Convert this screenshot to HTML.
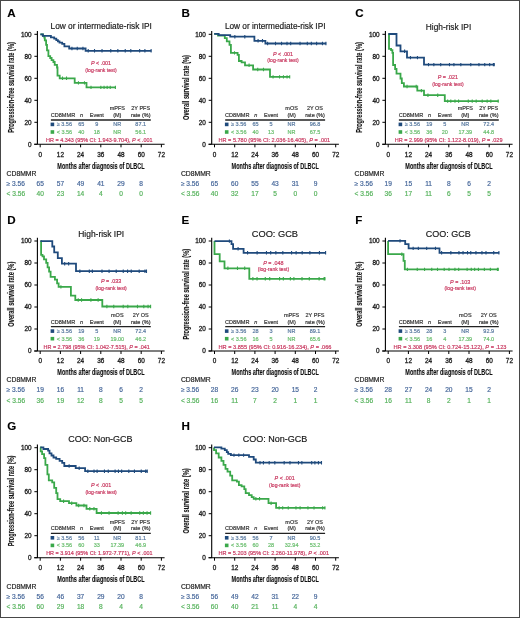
<!DOCTYPE html>
<html><head><meta charset="utf-8"><style>
html,body{margin:0;padding:0;background:#fff;}
#wrap{position:relative;width:520px;height:618px;overflow:hidden;background:#fff;}
#wrap svg{position:absolute;left:0;top:0;display:block;font-family:"Liberation Sans", sans-serif;}
#fig{filter:blur(0.4px);}
#frame{position:absolute;left:0;top:0;width:518px;height:616px;border:1px solid #484848;}
</style></head><body>
<div id="wrap">
<svg id="fig" width="520" height="618" viewBox="0 0 520 618">
<rect x="0" y="0" width="520" height="618" fill="#fff"/>
<text x="7.20" y="17.00" font-size="11.6" text-anchor="start" fill="#000" stroke="#000" stroke-width="0.12" font-weight="bold">A</text>
<text x="101.20" y="28.70" font-size="8.8" text-anchor="middle" fill="#1a1a1a" stroke="#1a1a1a" stroke-width="0.18" textLength="101.40" lengthAdjust="spacingAndGlyphs">Low or intermediate-risk IPI</text>
<path d="M37.40,31.00V144.30M34.20,144.30H164.60" stroke="#000" stroke-width="1.1" fill="none"/>
<text x="31.60" y="146.60" font-size="6.4" text-anchor="end" fill="#222" stroke="#222" stroke-width="0.3">0</text>
<text x="31.60" y="124.60" font-size="6.4" text-anchor="end" fill="#222" stroke="#222" stroke-width="0.3">20</text>
<text x="31.60" y="102.60" font-size="6.4" text-anchor="end" fill="#222" stroke="#222" stroke-width="0.3">40</text>
<text x="31.60" y="80.60" font-size="6.4" text-anchor="end" fill="#222" stroke="#222" stroke-width="0.3">60</text>
<text x="31.60" y="58.60" font-size="6.4" text-anchor="end" fill="#222" stroke="#222" stroke-width="0.3">80</text>
<text x="31.60" y="36.60" font-size="6.4" text-anchor="end" fill="#222" stroke="#222" stroke-width="0.3">100</text>
<text x="40.20" y="156.50" font-size="6.4" text-anchor="middle" fill="#222" stroke="#222" stroke-width="0.3">0</text>
<text x="60.40" y="156.50" font-size="6.4" text-anchor="middle" fill="#222" stroke="#222" stroke-width="0.3">12</text>
<text x="80.60" y="156.50" font-size="6.4" text-anchor="middle" fill="#222" stroke="#222" stroke-width="0.3">24</text>
<text x="100.80" y="156.50" font-size="6.4" text-anchor="middle" fill="#222" stroke="#222" stroke-width="0.3">36</text>
<text x="121.00" y="156.50" font-size="6.4" text-anchor="middle" fill="#222" stroke="#222" stroke-width="0.3">48</text>
<text x="141.20" y="156.50" font-size="6.4" text-anchor="middle" fill="#222" stroke="#222" stroke-width="0.3">60</text>
<text x="161.40" y="156.50" font-size="6.4" text-anchor="middle" fill="#222" stroke="#222" stroke-width="0.3">72</text>
<path d="M34.40,144.30H37.40M34.40,122.30H37.40M34.40,100.30H37.40M34.40,78.30H37.40M34.40,56.30H37.40M34.40,34.30H37.40M40.20,144.30V147.30M60.40,144.30V147.30M80.60,144.30V147.30M100.80,144.30V147.30M121.00,144.30V147.30M141.20,144.30V147.30M161.40,144.30V147.30" stroke="#000" stroke-width="1" fill="none"/>
<text x="57.30" y="168.70" font-size="8.4" text-anchor="start" fill="#111" stroke="#111" stroke-width="0.12" font-weight="bold" textLength="87.30" lengthAdjust="spacingAndGlyphs">Months after diagnosis of DLBCL</text>
<g transform="translate(14.30,87.50) rotate(-90)"><text x="0.00" y="0.00" font-size="8.6" text-anchor="middle" fill="#111" stroke="#111" stroke-width="0.12" font-weight="bold" textLength="90.70" lengthAdjust="spacingAndGlyphs">Progression-free survival rate (%)</text></g>
<path d="M40.40,34.30H43.00V35.80H44.30V37.60H44.80V40.30H46.10V44.90H47.00V50.30H48.40V56.20H50.20V58.00H51.60V60.20H53.40V62.00H54.70V64.80H57.00V67.50H57.50V75.60H59.70V78.30H74.70V82.90H86.50V87.40H115.70" stroke="#3aa84a" stroke-width="1.8" fill="none"/>
<path d="M62.51,76.60V80.00M66.52,76.60V80.00M78.45,81.20V84.60M84.48,81.20V84.60M91.00,85.70V89.10M100.84,85.70V89.10M104.05,85.70V89.10M107.16,85.70V89.10M110.22,85.70V89.10M115.40,85.70V89.10" stroke="#3aa84a" stroke-width="1.1" fill="none"/>
<path d="M40.40,34.30H42.80V35.90H50.90V37.30H54.20V38.60H56.30V40.20H57.90V41.30H59.50V42.70H62.20V43.80H64.40V46.40H69.20V48.50H85.60V50.80H151.40" stroke="#1f4a7c" stroke-width="1.8" fill="none"/>
<path d="M71.93,46.80V50.20M77.25,46.80V50.20M82.93,46.80V50.20M88.20,49.10V52.50M94.52,49.10V52.50M102.02,49.10V52.50M110.76,49.10V52.50M117.86,49.10V52.50M125.24,49.10V52.50M130.79,49.10V52.50M139.64,49.10V52.50M144.90,49.10V52.50M151.10,49.10V52.50" stroke="#1f4a7c" stroke-width="1.1" fill="none"/>
<text x="101.00" y="65.00" font-size="5.4" text-anchor="middle" fill="#c8365e" stroke="#c8365e" stroke-width="0.18"><tspan font-style="italic">P</tspan> &lt; .001</text>
<text x="101.00" y="71.60" font-size="5.4" text-anchor="middle" fill="#c8365e" stroke="#c8365e" stroke-width="0.18" textLength="31.40" lengthAdjust="spacingAndGlyphs">(log-rank test)</text>
<text x="117.30" y="110.20" font-size="5.5" text-anchor="middle" fill="#333" stroke="#333" stroke-width="0.18">mPFS</text>
<text x="140.70" y="110.20" font-size="5.5" text-anchor="middle" fill="#333" stroke="#333" stroke-width="0.18">2Y PFS</text>
<text x="50.70" y="117.00" font-size="5.5" text-anchor="start" fill="#333" stroke="#333" stroke-width="0.18" textLength="24.50" lengthAdjust="spacingAndGlyphs">CD8MMR</text>
<text x="81.50" y="117.00" font-size="5.5" text-anchor="middle" fill="#333" stroke="#333" stroke-width="0.18" font-style="italic">n</text>
<text x="96.80" y="117.00" font-size="5.5" text-anchor="middle" fill="#333" stroke="#333" stroke-width="0.18">Event</text>
<text x="117.30" y="117.00" font-size="5.5" text-anchor="middle" fill="#333" stroke="#333" stroke-width="0.18">(M)</text>
<text x="140.70" y="117.00" font-size="5.5" text-anchor="middle" fill="#333" stroke="#333" stroke-width="0.18">rate (%)</text>
<path d="M50.90,120.00H150.80" stroke="#222" stroke-width="1.3"/>
<rect x="50.60" y="122.60" width="3.6" height="3.6" fill="#1f4a7c"/>
<text x="56.70" y="126.30" font-size="5.5" text-anchor="start" fill="#57789f" stroke="#57789f" stroke-width="0.18">&#8805; 3.56</text>
<text x="81.20" y="126.30" font-size="5.5" text-anchor="middle" fill="#57789f" stroke="#57789f" stroke-width="0.18">65</text>
<text x="96.80" y="126.30" font-size="5.5" text-anchor="middle" fill="#57789f" stroke="#57789f" stroke-width="0.18">9</text>
<text x="117.30" y="126.30" font-size="5.5" text-anchor="middle" fill="#57789f" stroke="#57789f" stroke-width="0.18">NR</text>
<text x="140.70" y="126.30" font-size="5.5" text-anchor="middle" fill="#57789f" stroke="#57789f" stroke-width="0.18">87.1</text>
<rect x="50.60" y="130.20" width="3.6" height="3.6" fill="#3aa84a"/>
<text x="56.70" y="133.90" font-size="5.5" text-anchor="start" fill="#68bd6c" stroke="#68bd6c" stroke-width="0.18">&lt; 3.56</text>
<text x="81.20" y="133.90" font-size="5.5" text-anchor="middle" fill="#68bd6c" stroke="#68bd6c" stroke-width="0.18">40</text>
<text x="96.80" y="133.90" font-size="5.5" text-anchor="middle" fill="#68bd6c" stroke="#68bd6c" stroke-width="0.18">18</text>
<text x="117.30" y="133.90" font-size="5.5" text-anchor="middle" fill="#68bd6c" stroke="#68bd6c" stroke-width="0.18">NR</text>
<text x="140.70" y="133.90" font-size="5.5" text-anchor="middle" fill="#68bd6c" stroke="#68bd6c" stroke-width="0.18">56.1</text>
<text x="99.30" y="141.90" font-size="5.5" text-anchor="middle" fill="#c8365e" stroke="#c8365e" stroke-width="0.18" textLength="106.40" lengthAdjust="spacingAndGlyphs">HR = 4.343 (95% CI: 1.943-9.704), <tspan font-style="italic">P</tspan> &lt; .001</text>
<text x="6.60" y="175.50" font-size="6.8" text-anchor="start" fill="#222" stroke="#222" stroke-width="0.18">CD8MMR</text>
<text x="6.60" y="185.60" font-size="6.6" text-anchor="start" fill="#46679a" stroke="#46679a" stroke-width="0.18">&#8805; 3.56</text>
<text x="40.20" y="185.60" font-size="6.6" text-anchor="middle" fill="#46679a" stroke="#46679a" stroke-width="0.18">65</text>
<text x="60.40" y="185.60" font-size="6.6" text-anchor="middle" fill="#46679a" stroke="#46679a" stroke-width="0.18">57</text>
<text x="80.60" y="185.60" font-size="6.6" text-anchor="middle" fill="#46679a" stroke="#46679a" stroke-width="0.18">49</text>
<text x="100.80" y="185.60" font-size="6.6" text-anchor="middle" fill="#46679a" stroke="#46679a" stroke-width="0.18">41</text>
<text x="121.00" y="185.60" font-size="6.6" text-anchor="middle" fill="#46679a" stroke="#46679a" stroke-width="0.18">29</text>
<text x="141.20" y="185.60" font-size="6.6" text-anchor="middle" fill="#46679a" stroke="#46679a" stroke-width="0.18">8</text>
<text x="6.60" y="195.80" font-size="6.6" text-anchor="start" fill="#55b25b" stroke="#55b25b" stroke-width="0.18">&lt; 3.56</text>
<text x="40.20" y="195.80" font-size="6.6" text-anchor="middle" fill="#55b25b" stroke="#55b25b" stroke-width="0.18">40</text>
<text x="60.40" y="195.80" font-size="6.6" text-anchor="middle" fill="#55b25b" stroke="#55b25b" stroke-width="0.18">23</text>
<text x="80.60" y="195.80" font-size="6.6" text-anchor="middle" fill="#55b25b" stroke="#55b25b" stroke-width="0.18">14</text>
<text x="100.80" y="195.80" font-size="6.6" text-anchor="middle" fill="#55b25b" stroke="#55b25b" stroke-width="0.18">4</text>
<text x="121.00" y="195.80" font-size="6.6" text-anchor="middle" fill="#55b25b" stroke="#55b25b" stroke-width="0.18">0</text>
<text x="141.20" y="195.80" font-size="6.6" text-anchor="middle" fill="#55b25b" stroke="#55b25b" stroke-width="0.18">0</text>
<text x="181.50" y="17.00" font-size="11.6" text-anchor="start" fill="#000" stroke="#000" stroke-width="0.12" font-weight="bold">B</text>
<text x="275.20" y="28.70" font-size="8.8" text-anchor="middle" fill="#1a1a1a" stroke="#1a1a1a" stroke-width="0.18" textLength="100.60" lengthAdjust="spacingAndGlyphs">Low or intermediate-risk IPI</text>
<path d="M211.70,31.00V144.30M208.50,144.30H338.90" stroke="#000" stroke-width="1.1" fill="none"/>
<text x="205.90" y="146.60" font-size="6.4" text-anchor="end" fill="#222" stroke="#222" stroke-width="0.3">0</text>
<text x="205.90" y="124.60" font-size="6.4" text-anchor="end" fill="#222" stroke="#222" stroke-width="0.3">20</text>
<text x="205.90" y="102.60" font-size="6.4" text-anchor="end" fill="#222" stroke="#222" stroke-width="0.3">40</text>
<text x="205.90" y="80.60" font-size="6.4" text-anchor="end" fill="#222" stroke="#222" stroke-width="0.3">60</text>
<text x="205.90" y="58.60" font-size="6.4" text-anchor="end" fill="#222" stroke="#222" stroke-width="0.3">80</text>
<text x="205.90" y="36.60" font-size="6.4" text-anchor="end" fill="#222" stroke="#222" stroke-width="0.3">100</text>
<text x="214.50" y="156.50" font-size="6.4" text-anchor="middle" fill="#222" stroke="#222" stroke-width="0.3">0</text>
<text x="234.70" y="156.50" font-size="6.4" text-anchor="middle" fill="#222" stroke="#222" stroke-width="0.3">12</text>
<text x="254.90" y="156.50" font-size="6.4" text-anchor="middle" fill="#222" stroke="#222" stroke-width="0.3">24</text>
<text x="275.10" y="156.50" font-size="6.4" text-anchor="middle" fill="#222" stroke="#222" stroke-width="0.3">36</text>
<text x="295.30" y="156.50" font-size="6.4" text-anchor="middle" fill="#222" stroke="#222" stroke-width="0.3">48</text>
<text x="315.50" y="156.50" font-size="6.4" text-anchor="middle" fill="#222" stroke="#222" stroke-width="0.3">60</text>
<text x="335.70" y="156.50" font-size="6.4" text-anchor="middle" fill="#222" stroke="#222" stroke-width="0.3">72</text>
<path d="M208.70,144.30H211.70M208.70,122.30H211.70M208.70,100.30H211.70M208.70,78.30H211.70M208.70,56.30H211.70M208.70,34.30H211.70M214.50,144.30V147.30M234.70,144.30V147.30M254.90,144.30V147.30M275.10,144.30V147.30M295.30,144.30V147.30M315.50,144.30V147.30M335.70,144.30V147.30" stroke="#000" stroke-width="1" fill="none"/>
<text x="231.60" y="168.70" font-size="8.4" text-anchor="start" fill="#111" stroke="#111" stroke-width="0.12" font-weight="bold" textLength="87.30" lengthAdjust="spacingAndGlyphs">Months after diagnosis of DLBCL</text>
<g transform="translate(188.60,87.50) rotate(-90)"><text x="0.00" y="0.00" font-size="8.6" text-anchor="middle" fill="#111" stroke="#111" stroke-width="0.12" font-weight="bold" textLength="65.00" lengthAdjust="spacingAndGlyphs">Overall survival rate (%)</text></g>
<path d="M214.20,33.80H218.00V35.70H224.80V38.10H226.80V41.40H229.50V44.80H230.90V52.90H237.60V54.90H238.90V61.00H241.60V62.30H245.00V65.30H253.10V69.50H270.00V76.90H290.00" stroke="#3aa84a" stroke-width="1.8" fill="none"/>
<path d="M234.50,51.20V54.60M249.08,63.60V67.00M257.73,67.80V71.20M263.48,67.80V71.20M273.06,75.20V78.60M279.55,75.20V78.60M283.47,75.20V78.60M287.04,75.20V78.60M289.70,75.20V78.60" stroke="#3aa84a" stroke-width="1.1" fill="none"/>
<path d="M214.20,33.80H218.70V35.10H230.20V36.70H254.40V40.80H265.40V43.50H326.20" stroke="#1f4a7c" stroke-width="1.8" fill="none"/>
<path d="M234.85,35.00V38.40M244.80,35.00V38.40M258.08,39.10V42.50M262.49,39.10V42.50M267.59,41.80V45.20M275.52,41.80V45.20M281.57,41.80V45.20M287.01,41.80V45.20M290.68,41.80V45.20M300.02,41.80V45.20M307.31,41.80V45.20M311.35,41.80V45.20M316.60,41.80V45.20M322.43,41.80V45.20M325.90,41.80V45.20" stroke="#1f4a7c" stroke-width="1.1" fill="none"/>
<text x="283.00" y="55.60" font-size="5.4" text-anchor="middle" fill="#c8365e" stroke="#c8365e" stroke-width="0.18"><tspan font-style="italic">P</tspan> &lt; .001</text>
<text x="283.00" y="62.20" font-size="5.4" text-anchor="middle" fill="#c8365e" stroke="#c8365e" stroke-width="0.18" textLength="31.40" lengthAdjust="spacingAndGlyphs">(log-rank test)</text>
<text x="291.60" y="110.20" font-size="5.5" text-anchor="middle" fill="#333" stroke="#333" stroke-width="0.18">mOS</text>
<text x="315.00" y="110.20" font-size="5.5" text-anchor="middle" fill="#333" stroke="#333" stroke-width="0.18">2Y OS</text>
<text x="225.00" y="117.00" font-size="5.5" text-anchor="start" fill="#333" stroke="#333" stroke-width="0.18" textLength="24.50" lengthAdjust="spacingAndGlyphs">CD8MMR</text>
<text x="255.80" y="117.00" font-size="5.5" text-anchor="middle" fill="#333" stroke="#333" stroke-width="0.18" font-style="italic">n</text>
<text x="271.10" y="117.00" font-size="5.5" text-anchor="middle" fill="#333" stroke="#333" stroke-width="0.18">Event</text>
<text x="291.60" y="117.00" font-size="5.5" text-anchor="middle" fill="#333" stroke="#333" stroke-width="0.18">(M)</text>
<text x="315.00" y="117.00" font-size="5.5" text-anchor="middle" fill="#333" stroke="#333" stroke-width="0.18">rate (%)</text>
<path d="M225.20,120.00H325.10" stroke="#222" stroke-width="1.3"/>
<rect x="224.90" y="122.60" width="3.6" height="3.6" fill="#1f4a7c"/>
<text x="231.00" y="126.30" font-size="5.5" text-anchor="start" fill="#57789f" stroke="#57789f" stroke-width="0.18">&#8805; 3.56</text>
<text x="255.50" y="126.30" font-size="5.5" text-anchor="middle" fill="#57789f" stroke="#57789f" stroke-width="0.18">65</text>
<text x="271.10" y="126.30" font-size="5.5" text-anchor="middle" fill="#57789f" stroke="#57789f" stroke-width="0.18">5</text>
<text x="291.60" y="126.30" font-size="5.5" text-anchor="middle" fill="#57789f" stroke="#57789f" stroke-width="0.18">NR</text>
<text x="315.00" y="126.30" font-size="5.5" text-anchor="middle" fill="#57789f" stroke="#57789f" stroke-width="0.18">96.8</text>
<rect x="224.90" y="130.20" width="3.6" height="3.6" fill="#3aa84a"/>
<text x="231.00" y="133.90" font-size="5.5" text-anchor="start" fill="#68bd6c" stroke="#68bd6c" stroke-width="0.18">&lt; 3.56</text>
<text x="255.50" y="133.90" font-size="5.5" text-anchor="middle" fill="#68bd6c" stroke="#68bd6c" stroke-width="0.18">40</text>
<text x="271.10" y="133.90" font-size="5.5" text-anchor="middle" fill="#68bd6c" stroke="#68bd6c" stroke-width="0.18">13</text>
<text x="291.60" y="133.90" font-size="5.5" text-anchor="middle" fill="#68bd6c" stroke="#68bd6c" stroke-width="0.18">NR</text>
<text x="315.00" y="133.90" font-size="5.5" text-anchor="middle" fill="#68bd6c" stroke="#68bd6c" stroke-width="0.18">67.5</text>
<text x="274.35" y="141.90" font-size="5.5" text-anchor="middle" fill="#c8365e" stroke="#c8365e" stroke-width="0.18" textLength="111.70" lengthAdjust="spacingAndGlyphs">HR = 5.780 (95% CI: 2.036-16.405), <tspan font-style="italic">P</tspan> = .001</text>
<text x="180.90" y="175.50" font-size="6.8" text-anchor="start" fill="#222" stroke="#222" stroke-width="0.18">CD8MMR</text>
<text x="180.90" y="185.60" font-size="6.6" text-anchor="start" fill="#46679a" stroke="#46679a" stroke-width="0.18">&#8805; 3.56</text>
<text x="214.50" y="185.60" font-size="6.6" text-anchor="middle" fill="#46679a" stroke="#46679a" stroke-width="0.18">65</text>
<text x="234.70" y="185.60" font-size="6.6" text-anchor="middle" fill="#46679a" stroke="#46679a" stroke-width="0.18">60</text>
<text x="254.90" y="185.60" font-size="6.6" text-anchor="middle" fill="#46679a" stroke="#46679a" stroke-width="0.18">55</text>
<text x="275.10" y="185.60" font-size="6.6" text-anchor="middle" fill="#46679a" stroke="#46679a" stroke-width="0.18">43</text>
<text x="295.30" y="185.60" font-size="6.6" text-anchor="middle" fill="#46679a" stroke="#46679a" stroke-width="0.18">31</text>
<text x="315.50" y="185.60" font-size="6.6" text-anchor="middle" fill="#46679a" stroke="#46679a" stroke-width="0.18">9</text>
<text x="180.90" y="195.80" font-size="6.6" text-anchor="start" fill="#55b25b" stroke="#55b25b" stroke-width="0.18">&lt; 3.56</text>
<text x="214.50" y="195.80" font-size="6.6" text-anchor="middle" fill="#55b25b" stroke="#55b25b" stroke-width="0.18">40</text>
<text x="234.70" y="195.80" font-size="6.6" text-anchor="middle" fill="#55b25b" stroke="#55b25b" stroke-width="0.18">32</text>
<text x="254.90" y="195.80" font-size="6.6" text-anchor="middle" fill="#55b25b" stroke="#55b25b" stroke-width="0.18">17</text>
<text x="275.10" y="195.80" font-size="6.6" text-anchor="middle" fill="#55b25b" stroke="#55b25b" stroke-width="0.18">5</text>
<text x="295.30" y="195.80" font-size="6.6" text-anchor="middle" fill="#55b25b" stroke="#55b25b" stroke-width="0.18">0</text>
<text x="315.50" y="195.80" font-size="6.6" text-anchor="middle" fill="#55b25b" stroke="#55b25b" stroke-width="0.18">0</text>
<text x="355.20" y="17.00" font-size="11.6" text-anchor="start" fill="#000" stroke="#000" stroke-width="0.12" font-weight="bold">C</text>
<text x="448.50" y="30.20" font-size="8.8" text-anchor="middle" fill="#1a1a1a" stroke="#1a1a1a" stroke-width="0.18" textLength="45.40" lengthAdjust="spacingAndGlyphs">High-risk IPI</text>
<path d="M385.40,31.00V144.30M382.20,144.30H512.60" stroke="#000" stroke-width="1.1" fill="none"/>
<text x="379.60" y="146.60" font-size="6.4" text-anchor="end" fill="#222" stroke="#222" stroke-width="0.3">0</text>
<text x="379.60" y="124.60" font-size="6.4" text-anchor="end" fill="#222" stroke="#222" stroke-width="0.3">20</text>
<text x="379.60" y="102.60" font-size="6.4" text-anchor="end" fill="#222" stroke="#222" stroke-width="0.3">40</text>
<text x="379.60" y="80.60" font-size="6.4" text-anchor="end" fill="#222" stroke="#222" stroke-width="0.3">60</text>
<text x="379.60" y="58.60" font-size="6.4" text-anchor="end" fill="#222" stroke="#222" stroke-width="0.3">80</text>
<text x="379.60" y="36.60" font-size="6.4" text-anchor="end" fill="#222" stroke="#222" stroke-width="0.3">100</text>
<text x="388.20" y="156.50" font-size="6.4" text-anchor="middle" fill="#222" stroke="#222" stroke-width="0.3">0</text>
<text x="408.40" y="156.50" font-size="6.4" text-anchor="middle" fill="#222" stroke="#222" stroke-width="0.3">12</text>
<text x="428.60" y="156.50" font-size="6.4" text-anchor="middle" fill="#222" stroke="#222" stroke-width="0.3">24</text>
<text x="448.80" y="156.50" font-size="6.4" text-anchor="middle" fill="#222" stroke="#222" stroke-width="0.3">36</text>
<text x="469.00" y="156.50" font-size="6.4" text-anchor="middle" fill="#222" stroke="#222" stroke-width="0.3">48</text>
<text x="489.20" y="156.50" font-size="6.4" text-anchor="middle" fill="#222" stroke="#222" stroke-width="0.3">60</text>
<text x="509.40" y="156.50" font-size="6.4" text-anchor="middle" fill="#222" stroke="#222" stroke-width="0.3">72</text>
<path d="M382.40,144.30H385.40M382.40,122.30H385.40M382.40,100.30H385.40M382.40,78.30H385.40M382.40,56.30H385.40M382.40,34.30H385.40M388.20,144.30V147.30M408.40,144.30V147.30M428.60,144.30V147.30M448.80,144.30V147.30M469.00,144.30V147.30M489.20,144.30V147.30M509.40,144.30V147.30" stroke="#000" stroke-width="1" fill="none"/>
<text x="405.30" y="168.70" font-size="8.4" text-anchor="start" fill="#111" stroke="#111" stroke-width="0.12" font-weight="bold" textLength="87.30" lengthAdjust="spacingAndGlyphs">Months after diagnosis of DLBCL</text>
<g transform="translate(362.30,87.50) rotate(-90)"><text x="0.00" y="0.00" font-size="8.6" text-anchor="middle" fill="#111" stroke="#111" stroke-width="0.12" font-weight="bold" textLength="90.70" lengthAdjust="spacingAndGlyphs">Progression-free survival rate (%)</text></g>
<path d="M388.40,34.00H389.00V48.80H391.10V50.20H392.40V52.90H393.10V65.00H395.10V69.00H396.50V73.70H400.50V78.50H401.80V83.20H403.90V86.50H417.30V90.60H424.00V95.20H444.80V101.10H498.50" stroke="#3aa84a" stroke-width="1.8" fill="none"/>
<path d="M407.05,84.80V88.20M416.21,84.80V88.20M421.37,88.90V92.30M427.95,93.50V96.90M437.72,93.50V96.90M447.65,99.40V102.80M450.80,99.40V102.80M454.98,99.40V102.80M458.58,99.40V102.80M468.29,99.40V102.80M472.23,99.40V102.80M476.19,99.40V102.80M482.20,99.40V102.80M487.14,99.40V102.80M490.82,99.40V102.80M498.20,99.40V102.80" stroke="#3aa84a" stroke-width="1.1" fill="none"/>
<path d="M388.40,34.00H396.50V45.50H400.50V51.30H407.00V57.60H424.00V64.60H494.50" stroke="#1f4a7c" stroke-width="1.8" fill="none"/>
<path d="M404.60,49.60V53.00M410.44,55.90V59.30M417.44,55.90V59.30M428.51,62.90V66.30M433.84,62.90V66.30M440.71,62.90V66.30M449.47,62.90V66.30M453.91,62.90V66.30M460.82,62.90V66.30M470.78,62.90V66.30M478.95,62.90V66.30M484.75,62.90V66.30M489.68,62.90V66.30M493.39,62.90V66.30M494.20,62.90V66.30" stroke="#1f4a7c" stroke-width="1.1" fill="none"/>
<text x="447.90" y="79.30" font-size="5.4" text-anchor="middle" fill="#c8365e" stroke="#c8365e" stroke-width="0.18"><tspan font-style="italic">P</tspan> = .021</text>
<text x="447.90" y="85.90" font-size="5.4" text-anchor="middle" fill="#c8365e" stroke="#c8365e" stroke-width="0.18" textLength="31.40" lengthAdjust="spacingAndGlyphs">(log-rank test)</text>
<text x="465.30" y="110.20" font-size="5.5" text-anchor="middle" fill="#333" stroke="#333" stroke-width="0.18">mPFS</text>
<text x="488.70" y="110.20" font-size="5.5" text-anchor="middle" fill="#333" stroke="#333" stroke-width="0.18">2Y PFS</text>
<text x="398.70" y="117.00" font-size="5.5" text-anchor="start" fill="#333" stroke="#333" stroke-width="0.18" textLength="24.50" lengthAdjust="spacingAndGlyphs">CD8MMR</text>
<text x="429.50" y="117.00" font-size="5.5" text-anchor="middle" fill="#333" stroke="#333" stroke-width="0.18" font-style="italic">n</text>
<text x="444.80" y="117.00" font-size="5.5" text-anchor="middle" fill="#333" stroke="#333" stroke-width="0.18">Event</text>
<text x="465.30" y="117.00" font-size="5.5" text-anchor="middle" fill="#333" stroke="#333" stroke-width="0.18">(M)</text>
<text x="488.70" y="117.00" font-size="5.5" text-anchor="middle" fill="#333" stroke="#333" stroke-width="0.18">rate (%)</text>
<path d="M398.90,120.00H498.80" stroke="#222" stroke-width="1.3"/>
<rect x="398.60" y="122.60" width="3.6" height="3.6" fill="#1f4a7c"/>
<text x="404.70" y="126.30" font-size="5.5" text-anchor="start" fill="#57789f" stroke="#57789f" stroke-width="0.18">&#8805; 3.56</text>
<text x="429.20" y="126.30" font-size="5.5" text-anchor="middle" fill="#57789f" stroke="#57789f" stroke-width="0.18">19</text>
<text x="444.80" y="126.30" font-size="5.5" text-anchor="middle" fill="#57789f" stroke="#57789f" stroke-width="0.18">5</text>
<text x="465.30" y="126.30" font-size="5.5" text-anchor="middle" fill="#57789f" stroke="#57789f" stroke-width="0.18">NR</text>
<text x="488.70" y="126.30" font-size="5.5" text-anchor="middle" fill="#57789f" stroke="#57789f" stroke-width="0.18">72.4</text>
<rect x="398.60" y="130.20" width="3.6" height="3.6" fill="#3aa84a"/>
<text x="404.70" y="133.90" font-size="5.5" text-anchor="start" fill="#68bd6c" stroke="#68bd6c" stroke-width="0.18">&lt; 3.56</text>
<text x="429.20" y="133.90" font-size="5.5" text-anchor="middle" fill="#68bd6c" stroke="#68bd6c" stroke-width="0.18">36</text>
<text x="444.80" y="133.90" font-size="5.5" text-anchor="middle" fill="#68bd6c" stroke="#68bd6c" stroke-width="0.18">20</text>
<text x="465.30" y="133.90" font-size="5.5" text-anchor="middle" fill="#68bd6c" stroke="#68bd6c" stroke-width="0.18">17.39</text>
<text x="488.70" y="133.90" font-size="5.5" text-anchor="middle" fill="#68bd6c" stroke="#68bd6c" stroke-width="0.18">44.8</text>
<text x="448.65" y="141.90" font-size="5.5" text-anchor="middle" fill="#c8365e" stroke="#c8365e" stroke-width="0.18" textLength="107.70" lengthAdjust="spacingAndGlyphs">HR = 2.999 (95% CI: 1.122-8.019), <tspan font-style="italic">P</tspan> = .029</text>
<text x="354.60" y="175.50" font-size="6.8" text-anchor="start" fill="#222" stroke="#222" stroke-width="0.18">CD8MMR</text>
<text x="354.60" y="185.60" font-size="6.6" text-anchor="start" fill="#46679a" stroke="#46679a" stroke-width="0.18">&#8805; 3.56</text>
<text x="388.20" y="185.60" font-size="6.6" text-anchor="middle" fill="#46679a" stroke="#46679a" stroke-width="0.18">19</text>
<text x="408.40" y="185.60" font-size="6.6" text-anchor="middle" fill="#46679a" stroke="#46679a" stroke-width="0.18">15</text>
<text x="428.60" y="185.60" font-size="6.6" text-anchor="middle" fill="#46679a" stroke="#46679a" stroke-width="0.18">11</text>
<text x="448.80" y="185.60" font-size="6.6" text-anchor="middle" fill="#46679a" stroke="#46679a" stroke-width="0.18">8</text>
<text x="469.00" y="185.60" font-size="6.6" text-anchor="middle" fill="#46679a" stroke="#46679a" stroke-width="0.18">6</text>
<text x="489.20" y="185.60" font-size="6.6" text-anchor="middle" fill="#46679a" stroke="#46679a" stroke-width="0.18">2</text>
<text x="354.60" y="195.80" font-size="6.6" text-anchor="start" fill="#55b25b" stroke="#55b25b" stroke-width="0.18">&lt; 3.56</text>
<text x="388.20" y="195.80" font-size="6.6" text-anchor="middle" fill="#55b25b" stroke="#55b25b" stroke-width="0.18">36</text>
<text x="408.40" y="195.80" font-size="6.6" text-anchor="middle" fill="#55b25b" stroke="#55b25b" stroke-width="0.18">17</text>
<text x="428.60" y="195.80" font-size="6.6" text-anchor="middle" fill="#55b25b" stroke="#55b25b" stroke-width="0.18">11</text>
<text x="448.80" y="195.80" font-size="6.6" text-anchor="middle" fill="#55b25b" stroke="#55b25b" stroke-width="0.18">6</text>
<text x="469.00" y="195.80" font-size="6.6" text-anchor="middle" fill="#55b25b" stroke="#55b25b" stroke-width="0.18">5</text>
<text x="489.20" y="195.80" font-size="6.6" text-anchor="middle" fill="#55b25b" stroke="#55b25b" stroke-width="0.18">5</text>
<text x="7.20" y="223.70" font-size="11.6" text-anchor="start" fill="#000" stroke="#000" stroke-width="0.12" font-weight="bold">D</text>
<text x="101.20" y="236.80" font-size="8.8" text-anchor="middle" fill="#1a1a1a" stroke="#1a1a1a" stroke-width="0.18" textLength="45.90" lengthAdjust="spacingAndGlyphs">High-risk IPI</text>
<path d="M37.40,237.70V351.00M34.20,351.00H164.60" stroke="#000" stroke-width="1.1" fill="none"/>
<text x="31.60" y="353.30" font-size="6.4" text-anchor="end" fill="#222" stroke="#222" stroke-width="0.3">0</text>
<text x="31.60" y="331.30" font-size="6.4" text-anchor="end" fill="#222" stroke="#222" stroke-width="0.3">20</text>
<text x="31.60" y="309.30" font-size="6.4" text-anchor="end" fill="#222" stroke="#222" stroke-width="0.3">40</text>
<text x="31.60" y="287.30" font-size="6.4" text-anchor="end" fill="#222" stroke="#222" stroke-width="0.3">60</text>
<text x="31.60" y="265.30" font-size="6.4" text-anchor="end" fill="#222" stroke="#222" stroke-width="0.3">80</text>
<text x="31.60" y="243.30" font-size="6.4" text-anchor="end" fill="#222" stroke="#222" stroke-width="0.3">100</text>
<text x="40.20" y="363.20" font-size="6.4" text-anchor="middle" fill="#222" stroke="#222" stroke-width="0.3">0</text>
<text x="60.40" y="363.20" font-size="6.4" text-anchor="middle" fill="#222" stroke="#222" stroke-width="0.3">12</text>
<text x="80.60" y="363.20" font-size="6.4" text-anchor="middle" fill="#222" stroke="#222" stroke-width="0.3">24</text>
<text x="100.80" y="363.20" font-size="6.4" text-anchor="middle" fill="#222" stroke="#222" stroke-width="0.3">36</text>
<text x="121.00" y="363.20" font-size="6.4" text-anchor="middle" fill="#222" stroke="#222" stroke-width="0.3">48</text>
<text x="141.20" y="363.20" font-size="6.4" text-anchor="middle" fill="#222" stroke="#222" stroke-width="0.3">60</text>
<text x="161.40" y="363.20" font-size="6.4" text-anchor="middle" fill="#222" stroke="#222" stroke-width="0.3">72</text>
<path d="M34.40,351.00H37.40M34.40,329.00H37.40M34.40,307.00H37.40M34.40,285.00H37.40M34.40,263.00H37.40M34.40,241.00H37.40M40.20,351.00V354.00M60.40,351.00V354.00M80.60,351.00V354.00M100.80,351.00V354.00M121.00,351.00V354.00M141.20,351.00V354.00M161.40,351.00V354.00" stroke="#000" stroke-width="1" fill="none"/>
<text x="57.30" y="375.40" font-size="8.4" text-anchor="start" fill="#111" stroke="#111" stroke-width="0.12" font-weight="bold" textLength="87.30" lengthAdjust="spacingAndGlyphs">Months after diagnosis of DLBCL</text>
<g transform="translate(14.30,294.20) rotate(-90)"><text x="0.00" y="0.00" font-size="8.6" text-anchor="middle" fill="#111" stroke="#111" stroke-width="0.12" font-weight="bold" textLength="65.00" lengthAdjust="spacingAndGlyphs">Overall survival rate (%)</text></g>
<path d="M40.40,241.10H41.10V254.90H42.50V256.40H44.00V259.30H46.20V262.90H47.60V267.30H49.10V271.70H50.60V276.80H54.90V279.70H57.10V283.30H58.60V286.90H70.90V295.70H75.30V300.00H102.30V306.50H150.90" stroke="#3aa84a" stroke-width="1.8" fill="none"/>
<path d="M60.91,285.20V288.60M78.23,298.30V301.70M81.55,298.30V301.70M90.90,298.30V301.70M98.14,298.30V301.70M106.88,304.80V308.20M113.75,304.80V308.20M123.20,304.80V308.20M127.79,304.80V308.20M137.47,304.80V308.20M143.80,304.80V308.20M148.05,304.80V308.20M150.60,304.80V308.20" stroke="#3aa84a" stroke-width="1.1" fill="none"/>
<path d="M40.40,241.10H52.30V246.50H54.20V252.30H57.80V258.10H61.90V263.70H76.00V271.20H146.80" stroke="#1f4a7c" stroke-width="1.8" fill="none"/>
<path d="M64.68,262.00V265.40M68.65,262.00V265.40M79.86,269.50V272.90M89.31,269.50V272.90M92.35,269.50V272.90M101.99,269.50V272.90M109.08,269.50V272.90M116.21,269.50V272.90M123.25,269.50V272.90M127.59,269.50V272.90M131.23,269.50V272.90M139.19,269.50V272.90M144.96,269.50V272.90M146.50,269.50V272.90" stroke="#1f4a7c" stroke-width="1.1" fill="none"/>
<text x="111.10" y="283.30" font-size="5.4" text-anchor="middle" fill="#c8365e" stroke="#c8365e" stroke-width="0.18"><tspan font-style="italic">P</tspan> = .033</text>
<text x="111.10" y="289.90" font-size="5.4" text-anchor="middle" fill="#c8365e" stroke="#c8365e" stroke-width="0.18" textLength="31.40" lengthAdjust="spacingAndGlyphs">(log-rank test)</text>
<text x="117.30" y="316.90" font-size="5.5" text-anchor="middle" fill="#333" stroke="#333" stroke-width="0.18">mOS</text>
<text x="140.70" y="316.90" font-size="5.5" text-anchor="middle" fill="#333" stroke="#333" stroke-width="0.18">2Y OS</text>
<text x="50.70" y="323.70" font-size="5.5" text-anchor="start" fill="#333" stroke="#333" stroke-width="0.18" textLength="24.50" lengthAdjust="spacingAndGlyphs">CD8MMR</text>
<text x="81.50" y="323.70" font-size="5.5" text-anchor="middle" fill="#333" stroke="#333" stroke-width="0.18" font-style="italic">n</text>
<text x="96.80" y="323.70" font-size="5.5" text-anchor="middle" fill="#333" stroke="#333" stroke-width="0.18">Event</text>
<text x="117.30" y="323.70" font-size="5.5" text-anchor="middle" fill="#333" stroke="#333" stroke-width="0.18">(M)</text>
<text x="140.70" y="323.70" font-size="5.5" text-anchor="middle" fill="#333" stroke="#333" stroke-width="0.18">rate (%)</text>
<path d="M50.90,326.70H150.80" stroke="#222" stroke-width="1.3"/>
<rect x="50.60" y="329.30" width="3.6" height="3.6" fill="#1f4a7c"/>
<text x="56.70" y="333.00" font-size="5.5" text-anchor="start" fill="#57789f" stroke="#57789f" stroke-width="0.18">&#8805; 3.56</text>
<text x="81.20" y="333.00" font-size="5.5" text-anchor="middle" fill="#57789f" stroke="#57789f" stroke-width="0.18">19</text>
<text x="96.80" y="333.00" font-size="5.5" text-anchor="middle" fill="#57789f" stroke="#57789f" stroke-width="0.18">5</text>
<text x="117.30" y="333.00" font-size="5.5" text-anchor="middle" fill="#57789f" stroke="#57789f" stroke-width="0.18">NR</text>
<text x="140.70" y="333.00" font-size="5.5" text-anchor="middle" fill="#57789f" stroke="#57789f" stroke-width="0.18">72.4</text>
<rect x="50.60" y="336.90" width="3.6" height="3.6" fill="#3aa84a"/>
<text x="56.70" y="340.60" font-size="5.5" text-anchor="start" fill="#68bd6c" stroke="#68bd6c" stroke-width="0.18">&lt; 3.56</text>
<text x="81.20" y="340.60" font-size="5.5" text-anchor="middle" fill="#68bd6c" stroke="#68bd6c" stroke-width="0.18">36</text>
<text x="96.80" y="340.60" font-size="5.5" text-anchor="middle" fill="#68bd6c" stroke="#68bd6c" stroke-width="0.18">19</text>
<text x="117.30" y="340.60" font-size="5.5" text-anchor="middle" fill="#68bd6c" stroke="#68bd6c" stroke-width="0.18">19.00</text>
<text x="140.70" y="340.60" font-size="5.5" text-anchor="middle" fill="#68bd6c" stroke="#68bd6c" stroke-width="0.18">46.2</text>
<text x="96.65" y="348.60" font-size="5.5" text-anchor="middle" fill="#c8365e" stroke="#c8365e" stroke-width="0.18" textLength="106.30" lengthAdjust="spacingAndGlyphs">HR = 2.798 (95% CI: 1.042-7.515), <tspan font-style="italic">P</tspan> = .041</text>
<text x="6.60" y="382.20" font-size="6.8" text-anchor="start" fill="#222" stroke="#222" stroke-width="0.18">CD8MMR</text>
<text x="6.60" y="392.30" font-size="6.6" text-anchor="start" fill="#46679a" stroke="#46679a" stroke-width="0.18">&#8805; 3.56</text>
<text x="40.20" y="392.30" font-size="6.6" text-anchor="middle" fill="#46679a" stroke="#46679a" stroke-width="0.18">19</text>
<text x="60.40" y="392.30" font-size="6.6" text-anchor="middle" fill="#46679a" stroke="#46679a" stroke-width="0.18">16</text>
<text x="80.60" y="392.30" font-size="6.6" text-anchor="middle" fill="#46679a" stroke="#46679a" stroke-width="0.18">11</text>
<text x="100.80" y="392.30" font-size="6.6" text-anchor="middle" fill="#46679a" stroke="#46679a" stroke-width="0.18">8</text>
<text x="121.00" y="392.30" font-size="6.6" text-anchor="middle" fill="#46679a" stroke="#46679a" stroke-width="0.18">6</text>
<text x="141.20" y="392.30" font-size="6.6" text-anchor="middle" fill="#46679a" stroke="#46679a" stroke-width="0.18">2</text>
<text x="6.60" y="402.50" font-size="6.6" text-anchor="start" fill="#55b25b" stroke="#55b25b" stroke-width="0.18">&lt; 3.56</text>
<text x="40.20" y="402.50" font-size="6.6" text-anchor="middle" fill="#55b25b" stroke="#55b25b" stroke-width="0.18">36</text>
<text x="60.40" y="402.50" font-size="6.6" text-anchor="middle" fill="#55b25b" stroke="#55b25b" stroke-width="0.18">19</text>
<text x="80.60" y="402.50" font-size="6.6" text-anchor="middle" fill="#55b25b" stroke="#55b25b" stroke-width="0.18">12</text>
<text x="100.80" y="402.50" font-size="6.6" text-anchor="middle" fill="#55b25b" stroke="#55b25b" stroke-width="0.18">8</text>
<text x="121.00" y="402.50" font-size="6.6" text-anchor="middle" fill="#55b25b" stroke="#55b25b" stroke-width="0.18">5</text>
<text x="141.20" y="402.50" font-size="6.6" text-anchor="middle" fill="#55b25b" stroke="#55b25b" stroke-width="0.18">5</text>
<text x="181.50" y="223.70" font-size="11.6" text-anchor="start" fill="#000" stroke="#000" stroke-width="0.12" font-weight="bold">E</text>
<text x="274.90" y="237.20" font-size="8.8" text-anchor="middle" fill="#1a1a1a" stroke="#1a1a1a" stroke-width="0.18" textLength="46.20" lengthAdjust="spacingAndGlyphs">COO: GCB</text>
<path d="M211.70,237.70V351.00M208.50,351.00H338.90" stroke="#000" stroke-width="1.1" fill="none"/>
<text x="205.90" y="353.30" font-size="6.4" text-anchor="end" fill="#222" stroke="#222" stroke-width="0.3">0</text>
<text x="205.90" y="331.30" font-size="6.4" text-anchor="end" fill="#222" stroke="#222" stroke-width="0.3">20</text>
<text x="205.90" y="309.30" font-size="6.4" text-anchor="end" fill="#222" stroke="#222" stroke-width="0.3">40</text>
<text x="205.90" y="287.30" font-size="6.4" text-anchor="end" fill="#222" stroke="#222" stroke-width="0.3">60</text>
<text x="205.90" y="265.30" font-size="6.4" text-anchor="end" fill="#222" stroke="#222" stroke-width="0.3">80</text>
<text x="205.90" y="243.30" font-size="6.4" text-anchor="end" fill="#222" stroke="#222" stroke-width="0.3">100</text>
<text x="214.50" y="363.20" font-size="6.4" text-anchor="middle" fill="#222" stroke="#222" stroke-width="0.3">0</text>
<text x="234.70" y="363.20" font-size="6.4" text-anchor="middle" fill="#222" stroke="#222" stroke-width="0.3">12</text>
<text x="254.90" y="363.20" font-size="6.4" text-anchor="middle" fill="#222" stroke="#222" stroke-width="0.3">24</text>
<text x="275.10" y="363.20" font-size="6.4" text-anchor="middle" fill="#222" stroke="#222" stroke-width="0.3">36</text>
<text x="295.30" y="363.20" font-size="6.4" text-anchor="middle" fill="#222" stroke="#222" stroke-width="0.3">48</text>
<text x="315.50" y="363.20" font-size="6.4" text-anchor="middle" fill="#222" stroke="#222" stroke-width="0.3">60</text>
<text x="335.70" y="363.20" font-size="6.4" text-anchor="middle" fill="#222" stroke="#222" stroke-width="0.3">72</text>
<path d="M208.70,351.00H211.70M208.70,329.00H211.70M208.70,307.00H211.70M208.70,285.00H211.70M208.70,263.00H211.70M208.70,241.00H211.70M214.50,351.00V354.00M234.70,351.00V354.00M254.90,351.00V354.00M275.10,351.00V354.00M295.30,351.00V354.00M315.50,351.00V354.00M335.70,351.00V354.00" stroke="#000" stroke-width="1" fill="none"/>
<text x="231.60" y="375.40" font-size="8.4" text-anchor="start" fill="#111" stroke="#111" stroke-width="0.12" font-weight="bold" textLength="87.30" lengthAdjust="spacingAndGlyphs">Months after diagnosis of DLBCL</text>
<g transform="translate(188.60,294.20) rotate(-90)"><text x="0.00" y="0.00" font-size="8.6" text-anchor="middle" fill="#111" stroke="#111" stroke-width="0.12" font-weight="bold" textLength="90.70" lengthAdjust="spacingAndGlyphs">Progression-free survival rate (%)</text></g>
<path d="M214.50,241.10H214.50V254.20H219.70V261.30H224.50V268.30H249.30V278.80H325.20" stroke="#3aa84a" stroke-width="1.8" fill="none"/>
<path d="M227.89,266.60V270.00M237.48,266.60V270.00M244.71,266.60V270.00M252.88,277.10V280.50M257.04,277.10V280.50M265.29,277.10V280.50M269.71,277.10V280.50M279.59,277.10V280.50M283.34,277.10V280.50M290.37,277.10V280.50M293.89,277.10V280.50M302.00,277.10V280.50M309.29,277.10V280.50M319.11,277.10V280.50M324.11,277.10V280.50M324.90,277.10V280.50" stroke="#3aa84a" stroke-width="1.1" fill="none"/>
<path d="M214.50,241.10H231.50V244.10H233.10V248.80H243.60V252.80H325.90" stroke="#1f4a7c" stroke-width="1.8" fill="none"/>
<path d="M229.39,239.40V242.80M238.08,247.10V250.50M247.57,251.10V254.50M257.12,251.10V254.50M266.46,251.10V254.50M270.69,251.10V254.50M275.87,251.10V254.50M282.82,251.10V254.50M291.58,251.10V254.50M296.11,251.10V254.50M302.18,251.10V254.50M309.87,251.10V254.50M319.44,251.10V254.50M325.60,251.10V254.50" stroke="#1f4a7c" stroke-width="1.1" fill="none"/>
<text x="273.40" y="264.70" font-size="5.4" text-anchor="middle" fill="#c8365e" stroke="#c8365e" stroke-width="0.18"><tspan font-style="italic">P</tspan> = .048</text>
<text x="273.40" y="271.30" font-size="5.4" text-anchor="middle" fill="#c8365e" stroke="#c8365e" stroke-width="0.18" textLength="31.40" lengthAdjust="spacingAndGlyphs">(log-rank test)</text>
<text x="291.60" y="316.90" font-size="5.5" text-anchor="middle" fill="#333" stroke="#333" stroke-width="0.18">mPFS</text>
<text x="315.00" y="316.90" font-size="5.5" text-anchor="middle" fill="#333" stroke="#333" stroke-width="0.18">2Y PFS</text>
<text x="225.00" y="323.70" font-size="5.5" text-anchor="start" fill="#333" stroke="#333" stroke-width="0.18" textLength="24.50" lengthAdjust="spacingAndGlyphs">CD8MMR</text>
<text x="255.80" y="323.70" font-size="5.5" text-anchor="middle" fill="#333" stroke="#333" stroke-width="0.18" font-style="italic">n</text>
<text x="271.10" y="323.70" font-size="5.5" text-anchor="middle" fill="#333" stroke="#333" stroke-width="0.18">Event</text>
<text x="291.60" y="323.70" font-size="5.5" text-anchor="middle" fill="#333" stroke="#333" stroke-width="0.18">(M)</text>
<text x="315.00" y="323.70" font-size="5.5" text-anchor="middle" fill="#333" stroke="#333" stroke-width="0.18">rate (%)</text>
<path d="M225.20,326.70H325.10" stroke="#222" stroke-width="1.3"/>
<rect x="224.90" y="329.30" width="3.6" height="3.6" fill="#1f4a7c"/>
<text x="231.00" y="333.00" font-size="5.5" text-anchor="start" fill="#57789f" stroke="#57789f" stroke-width="0.18">&#8805; 3.56</text>
<text x="255.50" y="333.00" font-size="5.5" text-anchor="middle" fill="#57789f" stroke="#57789f" stroke-width="0.18">28</text>
<text x="271.10" y="333.00" font-size="5.5" text-anchor="middle" fill="#57789f" stroke="#57789f" stroke-width="0.18">3</text>
<text x="291.60" y="333.00" font-size="5.5" text-anchor="middle" fill="#57789f" stroke="#57789f" stroke-width="0.18">NR</text>
<text x="315.00" y="333.00" font-size="5.5" text-anchor="middle" fill="#57789f" stroke="#57789f" stroke-width="0.18">89.1</text>
<rect x="224.90" y="336.90" width="3.6" height="3.6" fill="#3aa84a"/>
<text x="231.00" y="340.60" font-size="5.5" text-anchor="start" fill="#68bd6c" stroke="#68bd6c" stroke-width="0.18">&lt; 3.56</text>
<text x="255.50" y="340.60" font-size="5.5" text-anchor="middle" fill="#68bd6c" stroke="#68bd6c" stroke-width="0.18">16</text>
<text x="271.10" y="340.60" font-size="5.5" text-anchor="middle" fill="#68bd6c" stroke="#68bd6c" stroke-width="0.18">5</text>
<text x="291.60" y="340.60" font-size="5.5" text-anchor="middle" fill="#68bd6c" stroke="#68bd6c" stroke-width="0.18">NR</text>
<text x="315.00" y="340.60" font-size="5.5" text-anchor="middle" fill="#68bd6c" stroke="#68bd6c" stroke-width="0.18">65.6</text>
<text x="275.00" y="348.60" font-size="5.5" text-anchor="middle" fill="#c8365e" stroke="#c8365e" stroke-width="0.18" textLength="113.00" lengthAdjust="spacingAndGlyphs">HR = 3.855 (95% CI: 0.916-16.234), <tspan font-style="italic">P</tspan> = .066</text>
<text x="180.90" y="382.20" font-size="6.8" text-anchor="start" fill="#222" stroke="#222" stroke-width="0.18">CD8MMR</text>
<text x="180.90" y="392.30" font-size="6.6" text-anchor="start" fill="#46679a" stroke="#46679a" stroke-width="0.18">&#8805; 3.56</text>
<text x="214.50" y="392.30" font-size="6.6" text-anchor="middle" fill="#46679a" stroke="#46679a" stroke-width="0.18">28</text>
<text x="234.70" y="392.30" font-size="6.6" text-anchor="middle" fill="#46679a" stroke="#46679a" stroke-width="0.18">26</text>
<text x="254.90" y="392.30" font-size="6.6" text-anchor="middle" fill="#46679a" stroke="#46679a" stroke-width="0.18">23</text>
<text x="275.10" y="392.30" font-size="6.6" text-anchor="middle" fill="#46679a" stroke="#46679a" stroke-width="0.18">20</text>
<text x="295.30" y="392.30" font-size="6.6" text-anchor="middle" fill="#46679a" stroke="#46679a" stroke-width="0.18">15</text>
<text x="315.50" y="392.30" font-size="6.6" text-anchor="middle" fill="#46679a" stroke="#46679a" stroke-width="0.18">2</text>
<text x="180.90" y="402.50" font-size="6.6" text-anchor="start" fill="#55b25b" stroke="#55b25b" stroke-width="0.18">&lt; 3.56</text>
<text x="214.50" y="402.50" font-size="6.6" text-anchor="middle" fill="#55b25b" stroke="#55b25b" stroke-width="0.18">16</text>
<text x="234.70" y="402.50" font-size="6.6" text-anchor="middle" fill="#55b25b" stroke="#55b25b" stroke-width="0.18">11</text>
<text x="254.90" y="402.50" font-size="6.6" text-anchor="middle" fill="#55b25b" stroke="#55b25b" stroke-width="0.18">7</text>
<text x="275.10" y="402.50" font-size="6.6" text-anchor="middle" fill="#55b25b" stroke="#55b25b" stroke-width="0.18">2</text>
<text x="295.30" y="402.50" font-size="6.6" text-anchor="middle" fill="#55b25b" stroke="#55b25b" stroke-width="0.18">1</text>
<text x="315.50" y="402.50" font-size="6.6" text-anchor="middle" fill="#55b25b" stroke="#55b25b" stroke-width="0.18">1</text>
<text x="355.20" y="223.70" font-size="11.6" text-anchor="start" fill="#000" stroke="#000" stroke-width="0.12" font-weight="bold">F</text>
<text x="448.30" y="237.00" font-size="8.8" text-anchor="middle" fill="#1a1a1a" stroke="#1a1a1a" stroke-width="0.18" textLength="45.00" lengthAdjust="spacingAndGlyphs">COO: GCB</text>
<path d="M385.40,237.70V351.00M382.20,351.00H512.60" stroke="#000" stroke-width="1.1" fill="none"/>
<text x="379.60" y="353.30" font-size="6.4" text-anchor="end" fill="#222" stroke="#222" stroke-width="0.3">0</text>
<text x="379.60" y="331.30" font-size="6.4" text-anchor="end" fill="#222" stroke="#222" stroke-width="0.3">20</text>
<text x="379.60" y="309.30" font-size="6.4" text-anchor="end" fill="#222" stroke="#222" stroke-width="0.3">40</text>
<text x="379.60" y="287.30" font-size="6.4" text-anchor="end" fill="#222" stroke="#222" stroke-width="0.3">60</text>
<text x="379.60" y="265.30" font-size="6.4" text-anchor="end" fill="#222" stroke="#222" stroke-width="0.3">80</text>
<text x="379.60" y="243.30" font-size="6.4" text-anchor="end" fill="#222" stroke="#222" stroke-width="0.3">100</text>
<text x="388.20" y="363.20" font-size="6.4" text-anchor="middle" fill="#222" stroke="#222" stroke-width="0.3">0</text>
<text x="408.40" y="363.20" font-size="6.4" text-anchor="middle" fill="#222" stroke="#222" stroke-width="0.3">12</text>
<text x="428.60" y="363.20" font-size="6.4" text-anchor="middle" fill="#222" stroke="#222" stroke-width="0.3">24</text>
<text x="448.80" y="363.20" font-size="6.4" text-anchor="middle" fill="#222" stroke="#222" stroke-width="0.3">36</text>
<text x="469.00" y="363.20" font-size="6.4" text-anchor="middle" fill="#222" stroke="#222" stroke-width="0.3">48</text>
<text x="489.20" y="363.20" font-size="6.4" text-anchor="middle" fill="#222" stroke="#222" stroke-width="0.3">60</text>
<text x="509.40" y="363.20" font-size="6.4" text-anchor="middle" fill="#222" stroke="#222" stroke-width="0.3">72</text>
<path d="M382.40,351.00H385.40M382.40,329.00H385.40M382.40,307.00H385.40M382.40,285.00H385.40M382.40,263.00H385.40M382.40,241.00H385.40M388.20,351.00V354.00M408.40,351.00V354.00M428.60,351.00V354.00M448.80,351.00V354.00M469.00,351.00V354.00M489.20,351.00V354.00M509.40,351.00V354.00" stroke="#000" stroke-width="1" fill="none"/>
<text x="405.30" y="375.40" font-size="8.4" text-anchor="start" fill="#111" stroke="#111" stroke-width="0.12" font-weight="bold" textLength="87.30" lengthAdjust="spacingAndGlyphs">Months after diagnosis of DLBCL</text>
<g transform="translate(362.30,294.20) rotate(-90)"><text x="0.00" y="0.00" font-size="8.6" text-anchor="middle" fill="#111" stroke="#111" stroke-width="0.12" font-weight="bold" textLength="65.00" lengthAdjust="spacingAndGlyphs">Overall survival rate (%)</text></g>
<path d="M388.10,240.90H388.10V254.20H403.50V260.90H404.80V269.40H498.50" stroke="#3aa84a" stroke-width="1.8" fill="none"/>
<path d="M401.82,252.50V255.90M407.39,267.70V271.10M417.25,267.70V271.10M424.57,267.70V271.10M431.75,267.70V271.10M437.50,267.70V271.10M444.18,267.70V271.10M449.00,267.70V271.10M454.93,267.70V271.10M458.71,267.70V271.10M467.12,267.70V271.10M471.27,267.70V271.10M474.66,267.70V271.10M478.42,267.70V271.10M484.36,267.70V271.10M490.34,267.70V271.10M497.42,267.70V271.10M498.20,267.70V271.10" stroke="#3aa84a" stroke-width="1.1" fill="none"/>
<path d="M388.10,240.90H405.20V244.10H408.60V248.40H439.50V252.80H499.20" stroke="#1f4a7c" stroke-width="1.8" fill="none"/>
<path d="M400.03,239.20V242.60M413.16,246.70V250.10M418.33,246.70V250.10M426.68,246.70V250.10M435.47,246.70V250.10M441.60,251.10V254.50M450.85,251.10V254.50M458.96,251.10V254.50M463.04,251.10V254.50M467.52,251.10V254.50M470.76,251.10V254.50M475.95,251.10V254.50M481.95,251.10V254.50M485.99,251.10V254.50M493.72,251.10V254.50M498.90,251.10V254.50" stroke="#1f4a7c" stroke-width="1.1" fill="none"/>
<text x="460.20" y="283.60" font-size="5.4" text-anchor="middle" fill="#c8365e" stroke="#c8365e" stroke-width="0.18"><tspan font-style="italic">P</tspan> = .103</text>
<text x="460.20" y="290.20" font-size="5.4" text-anchor="middle" fill="#c8365e" stroke="#c8365e" stroke-width="0.18" textLength="31.40" lengthAdjust="spacingAndGlyphs">(log-rank test)</text>
<text x="465.30" y="316.90" font-size="5.5" text-anchor="middle" fill="#333" stroke="#333" stroke-width="0.18">mOS</text>
<text x="488.70" y="316.90" font-size="5.5" text-anchor="middle" fill="#333" stroke="#333" stroke-width="0.18">2Y OS</text>
<text x="398.70" y="323.70" font-size="5.5" text-anchor="start" fill="#333" stroke="#333" stroke-width="0.18" textLength="24.50" lengthAdjust="spacingAndGlyphs">CD8MMR</text>
<text x="429.50" y="323.70" font-size="5.5" text-anchor="middle" fill="#333" stroke="#333" stroke-width="0.18" font-style="italic">n</text>
<text x="444.80" y="323.70" font-size="5.5" text-anchor="middle" fill="#333" stroke="#333" stroke-width="0.18">Event</text>
<text x="465.30" y="323.70" font-size="5.5" text-anchor="middle" fill="#333" stroke="#333" stroke-width="0.18">(M)</text>
<text x="488.70" y="323.70" font-size="5.5" text-anchor="middle" fill="#333" stroke="#333" stroke-width="0.18">rate (%)</text>
<path d="M398.90,326.70H498.80" stroke="#222" stroke-width="1.3"/>
<rect x="398.60" y="329.30" width="3.6" height="3.6" fill="#1f4a7c"/>
<text x="404.70" y="333.00" font-size="5.5" text-anchor="start" fill="#57789f" stroke="#57789f" stroke-width="0.18">&#8805; 3.56</text>
<text x="429.20" y="333.00" font-size="5.5" text-anchor="middle" fill="#57789f" stroke="#57789f" stroke-width="0.18">28</text>
<text x="444.80" y="333.00" font-size="5.5" text-anchor="middle" fill="#57789f" stroke="#57789f" stroke-width="0.18">3</text>
<text x="465.30" y="333.00" font-size="5.5" text-anchor="middle" fill="#57789f" stroke="#57789f" stroke-width="0.18">NR</text>
<text x="488.70" y="333.00" font-size="5.5" text-anchor="middle" fill="#57789f" stroke="#57789f" stroke-width="0.18">92.9</text>
<rect x="398.60" y="336.90" width="3.6" height="3.6" fill="#3aa84a"/>
<text x="404.70" y="340.60" font-size="5.5" text-anchor="start" fill="#68bd6c" stroke="#68bd6c" stroke-width="0.18">&lt; 3.56</text>
<text x="429.20" y="340.60" font-size="5.5" text-anchor="middle" fill="#68bd6c" stroke="#68bd6c" stroke-width="0.18">16</text>
<text x="444.80" y="340.60" font-size="5.5" text-anchor="middle" fill="#68bd6c" stroke="#68bd6c" stroke-width="0.18">4</text>
<text x="465.30" y="340.60" font-size="5.5" text-anchor="middle" fill="#68bd6c" stroke="#68bd6c" stroke-width="0.18">17.39</text>
<text x="488.70" y="340.60" font-size="5.5" text-anchor="middle" fill="#68bd6c" stroke="#68bd6c" stroke-width="0.18">74.0</text>
<text x="450.00" y="348.60" font-size="5.5" text-anchor="middle" fill="#c8365e" stroke="#c8365e" stroke-width="0.18" textLength="113.00" lengthAdjust="spacingAndGlyphs">HR = 3.308 (95% CI: 0.724-15.122), <tspan font-style="italic">P</tspan> = .123</text>
<text x="354.60" y="382.20" font-size="6.8" text-anchor="start" fill="#222" stroke="#222" stroke-width="0.18">CD8MMR</text>
<text x="354.60" y="392.30" font-size="6.6" text-anchor="start" fill="#46679a" stroke="#46679a" stroke-width="0.18">&#8805; 3.56</text>
<text x="388.20" y="392.30" font-size="6.6" text-anchor="middle" fill="#46679a" stroke="#46679a" stroke-width="0.18">28</text>
<text x="408.40" y="392.30" font-size="6.6" text-anchor="middle" fill="#46679a" stroke="#46679a" stroke-width="0.18">27</text>
<text x="428.60" y="392.30" font-size="6.6" text-anchor="middle" fill="#46679a" stroke="#46679a" stroke-width="0.18">24</text>
<text x="448.80" y="392.30" font-size="6.6" text-anchor="middle" fill="#46679a" stroke="#46679a" stroke-width="0.18">20</text>
<text x="469.00" y="392.30" font-size="6.6" text-anchor="middle" fill="#46679a" stroke="#46679a" stroke-width="0.18">15</text>
<text x="489.20" y="392.30" font-size="6.6" text-anchor="middle" fill="#46679a" stroke="#46679a" stroke-width="0.18">2</text>
<text x="354.60" y="402.50" font-size="6.6" text-anchor="start" fill="#55b25b" stroke="#55b25b" stroke-width="0.18">&lt; 3.56</text>
<text x="388.20" y="402.50" font-size="6.6" text-anchor="middle" fill="#55b25b" stroke="#55b25b" stroke-width="0.18">16</text>
<text x="408.40" y="402.50" font-size="6.6" text-anchor="middle" fill="#55b25b" stroke="#55b25b" stroke-width="0.18">11</text>
<text x="428.60" y="402.50" font-size="6.6" text-anchor="middle" fill="#55b25b" stroke="#55b25b" stroke-width="0.18">8</text>
<text x="448.80" y="402.50" font-size="6.6" text-anchor="middle" fill="#55b25b" stroke="#55b25b" stroke-width="0.18">2</text>
<text x="469.00" y="402.50" font-size="6.6" text-anchor="middle" fill="#55b25b" stroke="#55b25b" stroke-width="0.18">1</text>
<text x="489.20" y="402.50" font-size="6.6" text-anchor="middle" fill="#55b25b" stroke="#55b25b" stroke-width="0.18">1</text>
<text x="7.20" y="430.40" font-size="11.6" text-anchor="start" fill="#000" stroke="#000" stroke-width="0.12" font-weight="bold">G</text>
<text x="100.40" y="442.40" font-size="8.8" text-anchor="middle" fill="#1a1a1a" stroke="#1a1a1a" stroke-width="0.18" textLength="64.40" lengthAdjust="spacingAndGlyphs">COO: Non-GCB</text>
<path d="M37.40,444.40V557.70M34.20,557.70H164.60" stroke="#000" stroke-width="1.1" fill="none"/>
<text x="31.60" y="560.00" font-size="6.4" text-anchor="end" fill="#222" stroke="#222" stroke-width="0.3">0</text>
<text x="31.60" y="538.00" font-size="6.4" text-anchor="end" fill="#222" stroke="#222" stroke-width="0.3">20</text>
<text x="31.60" y="516.00" font-size="6.4" text-anchor="end" fill="#222" stroke="#222" stroke-width="0.3">40</text>
<text x="31.60" y="494.00" font-size="6.4" text-anchor="end" fill="#222" stroke="#222" stroke-width="0.3">60</text>
<text x="31.60" y="472.00" font-size="6.4" text-anchor="end" fill="#222" stroke="#222" stroke-width="0.3">80</text>
<text x="31.60" y="450.00" font-size="6.4" text-anchor="end" fill="#222" stroke="#222" stroke-width="0.3">100</text>
<text x="40.20" y="569.90" font-size="6.4" text-anchor="middle" fill="#222" stroke="#222" stroke-width="0.3">0</text>
<text x="60.40" y="569.90" font-size="6.4" text-anchor="middle" fill="#222" stroke="#222" stroke-width="0.3">12</text>
<text x="80.60" y="569.90" font-size="6.4" text-anchor="middle" fill="#222" stroke="#222" stroke-width="0.3">24</text>
<text x="100.80" y="569.90" font-size="6.4" text-anchor="middle" fill="#222" stroke="#222" stroke-width="0.3">36</text>
<text x="121.00" y="569.90" font-size="6.4" text-anchor="middle" fill="#222" stroke="#222" stroke-width="0.3">48</text>
<text x="141.20" y="569.90" font-size="6.4" text-anchor="middle" fill="#222" stroke="#222" stroke-width="0.3">60</text>
<text x="161.40" y="569.90" font-size="6.4" text-anchor="middle" fill="#222" stroke="#222" stroke-width="0.3">72</text>
<path d="M34.40,557.70H37.40M34.40,535.70H37.40M34.40,513.70H37.40M34.40,491.70H37.40M34.40,469.70H37.40M34.40,447.70H37.40M40.20,557.70V560.70M60.40,557.70V560.70M80.60,557.70V560.70M100.80,557.70V560.70M121.00,557.70V560.70M141.20,557.70V560.70M161.40,557.70V560.70" stroke="#000" stroke-width="1" fill="none"/>
<text x="57.30" y="582.10" font-size="8.4" text-anchor="start" fill="#111" stroke="#111" stroke-width="0.12" font-weight="bold" textLength="87.30" lengthAdjust="spacingAndGlyphs">Months after diagnosis of DLBCL</text>
<g transform="translate(14.30,500.90) rotate(-90)"><text x="0.00" y="0.00" font-size="8.6" text-anchor="middle" fill="#111" stroke="#111" stroke-width="0.12" font-weight="bold" textLength="90.70" lengthAdjust="spacingAndGlyphs">Progression-free survival rate (%)</text></g>
<path d="M40.30,447.40H40.70V451.40H42.10V454.10H44.10V458.20H45.40V464.90H47.40V474.30H48.80V480.40H52.20V482.40H54.20V487.80H56.20V493.10H57.50V499.20H60.20V501.20H69.00V503.20H76.40V505.50H86.50V508.80H96.60V513.00H150.90" stroke="#3aa84a" stroke-width="1.8" fill="none"/>
<path d="M63.59,499.50V502.90M71.71,501.50V504.90M78.65,503.80V507.20M83.95,503.80V507.20M89.80,507.10V510.50M93.98,507.10V510.50M101.44,511.30V514.70M109.05,511.30V514.70M118.11,511.30V514.70M122.41,511.30V514.70M125.67,511.30V514.70M131.15,511.30V514.70M139.72,511.30V514.70M143.37,511.30V514.70M147.07,511.30V514.70M150.60,511.30V514.70" stroke="#3aa84a" stroke-width="1.1" fill="none"/>
<path d="M40.30,447.40H43.40V449.00H48.10V450.70H49.50V453.40H51.50V455.50H53.50V457.50H56.20V458.80H59.60V460.80H62.20V462.90H64.30V466.00H75.70V468.20H85.10V471.20H147.50" stroke="#1f4a7c" stroke-width="1.8" fill="none"/>
<path d="M69.13,464.30V467.70M79.17,466.50V469.90M87.85,469.50V472.90M94.02,469.50V472.90M97.10,469.50V472.90M104.46,469.50V472.90M108.27,469.50V472.90M115.11,469.50V472.90M118.45,469.50V472.90M121.63,469.50V472.90M128.80,469.50V472.90M134.44,469.50V472.90M141.25,469.50V472.90M145.68,469.50V472.90M147.20,469.50V472.90" stroke="#1f4a7c" stroke-width="1.1" fill="none"/>
<text x="101.10" y="487.00" font-size="5.4" text-anchor="middle" fill="#c8365e" stroke="#c8365e" stroke-width="0.18"><tspan font-style="italic">P</tspan> &lt; .001</text>
<text x="101.10" y="493.60" font-size="5.4" text-anchor="middle" fill="#c8365e" stroke="#c8365e" stroke-width="0.18" textLength="31.40" lengthAdjust="spacingAndGlyphs">(log-rank test)</text>
<text x="117.30" y="523.60" font-size="5.5" text-anchor="middle" fill="#333" stroke="#333" stroke-width="0.18">mPFS</text>
<text x="140.70" y="523.60" font-size="5.5" text-anchor="middle" fill="#333" stroke="#333" stroke-width="0.18">2Y PFS</text>
<text x="50.70" y="530.40" font-size="5.5" text-anchor="start" fill="#333" stroke="#333" stroke-width="0.18" textLength="24.50" lengthAdjust="spacingAndGlyphs">CD8MMR</text>
<text x="81.50" y="530.40" font-size="5.5" text-anchor="middle" fill="#333" stroke="#333" stroke-width="0.18" font-style="italic">n</text>
<text x="96.80" y="530.40" font-size="5.5" text-anchor="middle" fill="#333" stroke="#333" stroke-width="0.18">Event</text>
<text x="117.30" y="530.40" font-size="5.5" text-anchor="middle" fill="#333" stroke="#333" stroke-width="0.18">(M)</text>
<text x="140.70" y="530.40" font-size="5.5" text-anchor="middle" fill="#333" stroke="#333" stroke-width="0.18">rate (%)</text>
<path d="M50.90,533.40H150.80" stroke="#222" stroke-width="1.3"/>
<rect x="50.60" y="536.00" width="3.6" height="3.6" fill="#1f4a7c"/>
<text x="56.70" y="539.70" font-size="5.5" text-anchor="start" fill="#57789f" stroke="#57789f" stroke-width="0.18">&#8805; 3.56</text>
<text x="81.20" y="539.70" font-size="5.5" text-anchor="middle" fill="#57789f" stroke="#57789f" stroke-width="0.18">56</text>
<text x="96.80" y="539.70" font-size="5.5" text-anchor="middle" fill="#57789f" stroke="#57789f" stroke-width="0.18">11</text>
<text x="117.30" y="539.70" font-size="5.5" text-anchor="middle" fill="#57789f" stroke="#57789f" stroke-width="0.18">NR</text>
<text x="140.70" y="539.70" font-size="5.5" text-anchor="middle" fill="#57789f" stroke="#57789f" stroke-width="0.18">81.1</text>
<rect x="50.60" y="543.60" width="3.6" height="3.6" fill="#3aa84a"/>
<text x="56.70" y="547.30" font-size="5.5" text-anchor="start" fill="#68bd6c" stroke="#68bd6c" stroke-width="0.18">&lt; 3.56</text>
<text x="81.20" y="547.30" font-size="5.5" text-anchor="middle" fill="#68bd6c" stroke="#68bd6c" stroke-width="0.18">60</text>
<text x="96.80" y="547.30" font-size="5.5" text-anchor="middle" fill="#68bd6c" stroke="#68bd6c" stroke-width="0.18">33</text>
<text x="117.30" y="547.30" font-size="5.5" text-anchor="middle" fill="#68bd6c" stroke="#68bd6c" stroke-width="0.18">17.39</text>
<text x="140.70" y="547.30" font-size="5.5" text-anchor="middle" fill="#68bd6c" stroke="#68bd6c" stroke-width="0.18">46.9</text>
<text x="99.35" y="555.30" font-size="5.5" text-anchor="middle" fill="#c8365e" stroke="#c8365e" stroke-width="0.18" textLength="106.30" lengthAdjust="spacingAndGlyphs">HR = 3.914 (95% CI: 1.972-7.771), <tspan font-style="italic">P</tspan> &lt; .001</text>
<text x="6.60" y="588.90" font-size="6.8" text-anchor="start" fill="#222" stroke="#222" stroke-width="0.18">CD8MMR</text>
<text x="6.60" y="599.00" font-size="6.6" text-anchor="start" fill="#46679a" stroke="#46679a" stroke-width="0.18">&#8805; 3.56</text>
<text x="40.20" y="599.00" font-size="6.6" text-anchor="middle" fill="#46679a" stroke="#46679a" stroke-width="0.18">56</text>
<text x="60.40" y="599.00" font-size="6.6" text-anchor="middle" fill="#46679a" stroke="#46679a" stroke-width="0.18">46</text>
<text x="80.60" y="599.00" font-size="6.6" text-anchor="middle" fill="#46679a" stroke="#46679a" stroke-width="0.18">37</text>
<text x="100.80" y="599.00" font-size="6.6" text-anchor="middle" fill="#46679a" stroke="#46679a" stroke-width="0.18">29</text>
<text x="121.00" y="599.00" font-size="6.6" text-anchor="middle" fill="#46679a" stroke="#46679a" stroke-width="0.18">20</text>
<text x="141.20" y="599.00" font-size="6.6" text-anchor="middle" fill="#46679a" stroke="#46679a" stroke-width="0.18">8</text>
<text x="6.60" y="609.20" font-size="6.6" text-anchor="start" fill="#55b25b" stroke="#55b25b" stroke-width="0.18">&lt; 3.56</text>
<text x="40.20" y="609.20" font-size="6.6" text-anchor="middle" fill="#55b25b" stroke="#55b25b" stroke-width="0.18">60</text>
<text x="60.40" y="609.20" font-size="6.6" text-anchor="middle" fill="#55b25b" stroke="#55b25b" stroke-width="0.18">29</text>
<text x="80.60" y="609.20" font-size="6.6" text-anchor="middle" fill="#55b25b" stroke="#55b25b" stroke-width="0.18">18</text>
<text x="100.80" y="609.20" font-size="6.6" text-anchor="middle" fill="#55b25b" stroke="#55b25b" stroke-width="0.18">8</text>
<text x="121.00" y="609.20" font-size="6.6" text-anchor="middle" fill="#55b25b" stroke="#55b25b" stroke-width="0.18">4</text>
<text x="141.20" y="609.20" font-size="6.6" text-anchor="middle" fill="#55b25b" stroke="#55b25b" stroke-width="0.18">4</text>
<text x="181.50" y="430.40" font-size="11.6" text-anchor="start" fill="#000" stroke="#000" stroke-width="0.12" font-weight="bold">H</text>
<text x="275.00" y="442.00" font-size="8.8" text-anchor="middle" fill="#1a1a1a" stroke="#1a1a1a" stroke-width="0.18" textLength="64.60" lengthAdjust="spacingAndGlyphs">COO: Non-GCB</text>
<path d="M211.70,444.40V557.70M208.50,557.70H338.90" stroke="#000" stroke-width="1.1" fill="none"/>
<text x="205.90" y="560.00" font-size="6.4" text-anchor="end" fill="#222" stroke="#222" stroke-width="0.3">0</text>
<text x="205.90" y="538.00" font-size="6.4" text-anchor="end" fill="#222" stroke="#222" stroke-width="0.3">20</text>
<text x="205.90" y="516.00" font-size="6.4" text-anchor="end" fill="#222" stroke="#222" stroke-width="0.3">40</text>
<text x="205.90" y="494.00" font-size="6.4" text-anchor="end" fill="#222" stroke="#222" stroke-width="0.3">60</text>
<text x="205.90" y="472.00" font-size="6.4" text-anchor="end" fill="#222" stroke="#222" stroke-width="0.3">80</text>
<text x="205.90" y="450.00" font-size="6.4" text-anchor="end" fill="#222" stroke="#222" stroke-width="0.3">100</text>
<text x="214.50" y="569.90" font-size="6.4" text-anchor="middle" fill="#222" stroke="#222" stroke-width="0.3">0</text>
<text x="234.70" y="569.90" font-size="6.4" text-anchor="middle" fill="#222" stroke="#222" stroke-width="0.3">12</text>
<text x="254.90" y="569.90" font-size="6.4" text-anchor="middle" fill="#222" stroke="#222" stroke-width="0.3">24</text>
<text x="275.10" y="569.90" font-size="6.4" text-anchor="middle" fill="#222" stroke="#222" stroke-width="0.3">36</text>
<text x="295.30" y="569.90" font-size="6.4" text-anchor="middle" fill="#222" stroke="#222" stroke-width="0.3">48</text>
<text x="315.50" y="569.90" font-size="6.4" text-anchor="middle" fill="#222" stroke="#222" stroke-width="0.3">60</text>
<text x="335.70" y="569.90" font-size="6.4" text-anchor="middle" fill="#222" stroke="#222" stroke-width="0.3">72</text>
<path d="M208.70,557.70H211.70M208.70,535.70H211.70M208.70,513.70H211.70M208.70,491.70H211.70M208.70,469.70H211.70M208.70,447.70H211.70M214.50,557.70V560.70M234.70,557.70V560.70M254.90,557.70V560.70M275.10,557.70V560.70M295.30,557.70V560.70M315.50,557.70V560.70M335.70,557.70V560.70" stroke="#000" stroke-width="1" fill="none"/>
<text x="231.60" y="582.10" font-size="8.4" text-anchor="start" fill="#111" stroke="#111" stroke-width="0.12" font-weight="bold" textLength="87.30" lengthAdjust="spacingAndGlyphs">Months after diagnosis of DLBCL</text>
<g transform="translate(188.60,500.90) rotate(-90)"><text x="0.00" y="0.00" font-size="8.6" text-anchor="middle" fill="#111" stroke="#111" stroke-width="0.12" font-weight="bold" textLength="65.00" lengthAdjust="spacingAndGlyphs">Overall survival rate (%)</text></g>
<path d="M214.00,447.40H214.00V450.10H216.10V453.40H218.70V457.50H221.40V460.80H223.50V464.90H225.50V468.90H227.50V471.60H230.20V475.60H232.20V480.40H236.90V481.70H238.90V485.10H241.60V486.40H244.30V489.10H245.70V493.10H249.00V495.20H251.70V497.20H253.70V498.80H268.50V503.20H276.10V507.90H325.20" stroke="#3aa84a" stroke-width="1.8" fill="none"/>
<path d="M255.86,497.10V500.50M259.54,497.10V500.50M271.10,501.50V504.90M279.14,506.20V509.60M282.67,506.20V509.60M288.25,506.20V509.60M295.97,506.20V509.60M300.08,506.20V509.60M307.94,506.20V509.60M314.01,506.20V509.60M322.63,506.20V509.60M324.90,506.20V509.60" stroke="#3aa84a" stroke-width="1.1" fill="none"/>
<path d="M214.00,447.40H221.40V448.70H224.80V450.10H226.80V452.10H228.20V453.80H230.90V455.10H249.00V456.80H253.70V459.50H255.80V462.70H321.80" stroke="#1f4a7c" stroke-width="1.8" fill="none"/>
<path d="M233.97,453.40V456.80M238.83,453.40V456.80M243.58,453.40V456.80M260.01,461.00V464.40M263.44,461.00V464.40M269.18,461.00V464.40M274.82,461.00V464.40M284.16,461.00V464.40M289.97,461.00V464.40M298.46,461.00V464.40M301.86,461.00V464.40M311.69,461.00V464.40M314.89,461.00V464.40M318.43,461.00V464.40M321.50,461.00V464.40" stroke="#1f4a7c" stroke-width="1.1" fill="none"/>
<text x="284.70" y="480.20" font-size="5.4" text-anchor="middle" fill="#c8365e" stroke="#c8365e" stroke-width="0.18"><tspan font-style="italic">P</tspan> &lt; .001</text>
<text x="284.70" y="486.80" font-size="5.4" text-anchor="middle" fill="#c8365e" stroke="#c8365e" stroke-width="0.18" textLength="31.40" lengthAdjust="spacingAndGlyphs">(log-rank test)</text>
<text x="291.60" y="523.60" font-size="5.5" text-anchor="middle" fill="#333" stroke="#333" stroke-width="0.18">mOS</text>
<text x="315.00" y="523.60" font-size="5.5" text-anchor="middle" fill="#333" stroke="#333" stroke-width="0.18">2Y OS</text>
<text x="225.00" y="530.40" font-size="5.5" text-anchor="start" fill="#333" stroke="#333" stroke-width="0.18" textLength="24.50" lengthAdjust="spacingAndGlyphs">CD8MMR</text>
<text x="255.80" y="530.40" font-size="5.5" text-anchor="middle" fill="#333" stroke="#333" stroke-width="0.18" font-style="italic">n</text>
<text x="271.10" y="530.40" font-size="5.5" text-anchor="middle" fill="#333" stroke="#333" stroke-width="0.18">Event</text>
<text x="291.60" y="530.40" font-size="5.5" text-anchor="middle" fill="#333" stroke="#333" stroke-width="0.18">(M)</text>
<text x="315.00" y="530.40" font-size="5.5" text-anchor="middle" fill="#333" stroke="#333" stroke-width="0.18">rate (%)</text>
<path d="M225.20,533.40H325.10" stroke="#222" stroke-width="1.3"/>
<rect x="224.90" y="536.00" width="3.6" height="3.6" fill="#1f4a7c"/>
<text x="231.00" y="539.70" font-size="5.5" text-anchor="start" fill="#57789f" stroke="#57789f" stroke-width="0.18">&#8805; 3.56</text>
<text x="255.50" y="539.70" font-size="5.5" text-anchor="middle" fill="#57789f" stroke="#57789f" stroke-width="0.18">56</text>
<text x="271.10" y="539.70" font-size="5.5" text-anchor="middle" fill="#57789f" stroke="#57789f" stroke-width="0.18">7</text>
<text x="291.60" y="539.70" font-size="5.5" text-anchor="middle" fill="#57789f" stroke="#57789f" stroke-width="0.18">NR</text>
<text x="315.00" y="539.70" font-size="5.5" text-anchor="middle" fill="#57789f" stroke="#57789f" stroke-width="0.18">90.5</text>
<rect x="224.90" y="543.60" width="3.6" height="3.6" fill="#3aa84a"/>
<text x="231.00" y="547.30" font-size="5.5" text-anchor="start" fill="#68bd6c" stroke="#68bd6c" stroke-width="0.18">&lt; 3.56</text>
<text x="255.50" y="547.30" font-size="5.5" text-anchor="middle" fill="#68bd6c" stroke="#68bd6c" stroke-width="0.18">60</text>
<text x="271.10" y="547.30" font-size="5.5" text-anchor="middle" fill="#68bd6c" stroke="#68bd6c" stroke-width="0.18">28</text>
<text x="291.60" y="547.30" font-size="5.5" text-anchor="middle" fill="#68bd6c" stroke="#68bd6c" stroke-width="0.18">32.94</text>
<text x="315.00" y="547.30" font-size="5.5" text-anchor="middle" fill="#68bd6c" stroke="#68bd6c" stroke-width="0.18">53.2</text>
<text x="273.75" y="555.30" font-size="5.5" text-anchor="middle" fill="#c8365e" stroke="#c8365e" stroke-width="0.18" textLength="110.50" lengthAdjust="spacingAndGlyphs">HR = 5.203 (95% CI: 2.260-11.978), <tspan font-style="italic">P</tspan> &lt; .001</text>
<text x="180.90" y="588.90" font-size="6.8" text-anchor="start" fill="#222" stroke="#222" stroke-width="0.18">CD8MMR</text>
<text x="180.90" y="599.00" font-size="6.6" text-anchor="start" fill="#46679a" stroke="#46679a" stroke-width="0.18">&#8805; 3.56</text>
<text x="214.50" y="599.00" font-size="6.6" text-anchor="middle" fill="#46679a" stroke="#46679a" stroke-width="0.18">56</text>
<text x="234.70" y="599.00" font-size="6.6" text-anchor="middle" fill="#46679a" stroke="#46679a" stroke-width="0.18">49</text>
<text x="254.90" y="599.00" font-size="6.6" text-anchor="middle" fill="#46679a" stroke="#46679a" stroke-width="0.18">42</text>
<text x="275.10" y="599.00" font-size="6.6" text-anchor="middle" fill="#46679a" stroke="#46679a" stroke-width="0.18">31</text>
<text x="295.30" y="599.00" font-size="6.6" text-anchor="middle" fill="#46679a" stroke="#46679a" stroke-width="0.18">22</text>
<text x="315.50" y="599.00" font-size="6.6" text-anchor="middle" fill="#46679a" stroke="#46679a" stroke-width="0.18">9</text>
<text x="180.90" y="609.20" font-size="6.6" text-anchor="start" fill="#55b25b" stroke="#55b25b" stroke-width="0.18">&lt; 3.56</text>
<text x="214.50" y="609.20" font-size="6.6" text-anchor="middle" fill="#55b25b" stroke="#55b25b" stroke-width="0.18">60</text>
<text x="234.70" y="609.20" font-size="6.6" text-anchor="middle" fill="#55b25b" stroke="#55b25b" stroke-width="0.18">40</text>
<text x="254.90" y="609.20" font-size="6.6" text-anchor="middle" fill="#55b25b" stroke="#55b25b" stroke-width="0.18">21</text>
<text x="275.10" y="609.20" font-size="6.6" text-anchor="middle" fill="#55b25b" stroke="#55b25b" stroke-width="0.18">11</text>
<text x="295.30" y="609.20" font-size="6.6" text-anchor="middle" fill="#55b25b" stroke="#55b25b" stroke-width="0.18">4</text>
<text x="315.50" y="609.20" font-size="6.6" text-anchor="middle" fill="#55b25b" stroke="#55b25b" stroke-width="0.18">4</text>
</svg>
<div id="frame"></div>
</div>
</body></html>
